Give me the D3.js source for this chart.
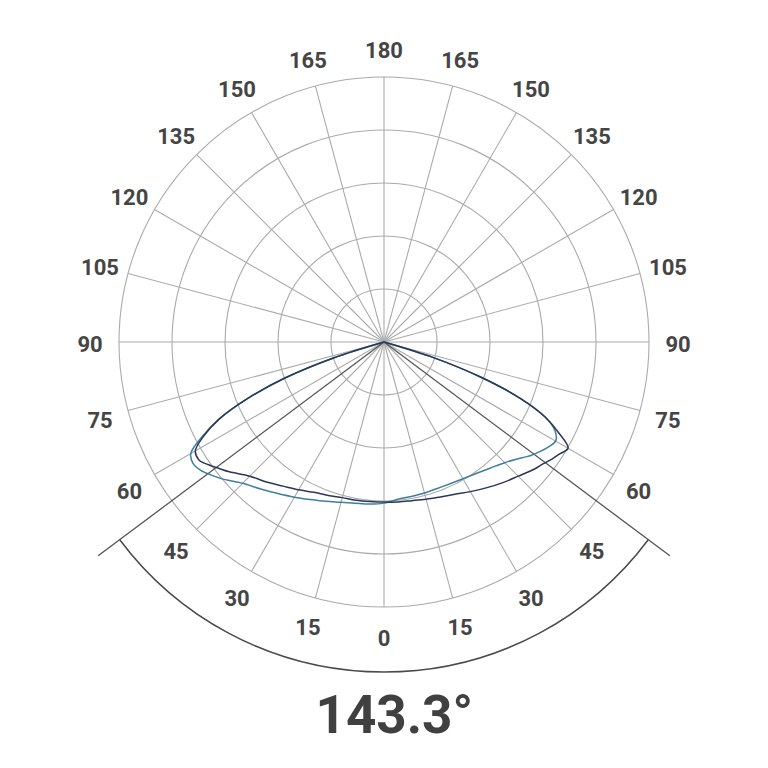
<!DOCTYPE html>
<html>
<head>
<meta charset="utf-8">
<script src="https://cdn.jsdelivr.net/npm/d3@7"></script>
<style>
  body { margin: 0; background: #fff; }
  text { font-family: Roboto, "Open Sans", sans-serif; }
</style>
</head>
<body>
<svg id="chart"></svg>
<script>
// Chart size and polar centre
var width = 768;
var height = 768;
var cx = 384, cy = 342;
var outerR = 265;

// Gamma angles (degrees from nadir) shared by every half-plane
var gammaAngles = [0, 5, 10, 15, 20, 25, 30, 35, 40, 45, 50, 52.5, 55, 57.5, 60, 62.5, 65, 67.5, 70, 72.5, 75, 80, 85, 90];

// Intensity values, plane C0-C180 (dark) : left half and right half
var darkLeft  = [302, 302, 303, 304, 308, 313, 322, 332, 345, 358, 381, 392, 404, 414, 411, 383, 342, 279, 200, 100, 0, 0, 0, 0];
var darkRight = [302, 303, 304, 307, 311, 317, 326, 336, 347, 358, 372, 378, 386, 393, 401, 372, 336, 279, 196, 98, 0, 0, 0, 0];

// Intensity values, plane C90-C270 (teal) : left half and right half
var tealLeft  = [304, 307, 309, 313, 320, 328, 338, 349, 362, 377, 401, 412, 422, 427, 421, 387, 343, 279, 200, 100, 0, 0, 0, 0];
var tealRight = [304, 298, 296, 295, 294, 295, 298, 303, 311, 322, 340, 351, 360, 368, 374, 364, 336, 279, 196, 98, 0, 0, 0, 0];

// Grid rings and angle tick labels
var ringValues = [100, 200, 300, 400, 500];
var tickAngles = [0, 15, 30, 45, 60, 75, 90, 105, 120, 135, 150, 165, 180];

// Beam angle
var beamAngle = 143.3;
var beamEdge = 53.2;   // where the edge lines are drawn in the diagram

var svg = d3.select("#chart")
    .attr("width", width)
    .attr("height", height);

var g = svg.append("g").attr("transform", "translate(" + cx + "," + cy + ")");

var r = d3.scaleLinear().domain([0, 500]).range([0, outerR]);

function rad(d) { return d * Math.PI / 180; }

// Rings
g.selectAll("circle.ring")
    .data(ringValues)
    .enter().append("circle")
    .attr("class", "ring")
    .attr("r", function (d) { return r(d); })
    .attr("fill", "none")
    .attr("stroke", "#ababab")
    .attr("stroke-width", 1.1);

// Spokes every 15 degrees
var spokes = d3.range(0, 360, 15);
g.selectAll("line.spoke")
    .data(spokes)
    .enter().append("line")
    .attr("class", "spoke")
    .attr("x1", 0).attr("y1", 0)
    .attr("x2", function (d) { return r(500) * Math.sin(rad(d)); })
    .attr("y2", function (d) { return r(500) * Math.cos(rad(d)); })
    .attr("stroke", "#ababab")
    .attr("stroke-width", 1.1);

// Tick labels on both sides
var labelR = 294;
var labelData = [];
tickAngles.forEach(function (a) {
    labelData.push({ a: a, side: -1 });
    if (a !== 0 && a !== 180) labelData.push({ a: a, side: 1 });
});
g.selectAll("text.tick")
    .data(labelData)
    .enter().append("text")
    .attr("class", "tick")
    .attr("x", function (d) { return d.side * labelR * Math.sin(rad(d.a)); })
    .attr("y", function (d) { return labelR * Math.cos(rad(d.a)) + 2; })
    .attr("text-anchor", "middle")
    .attr("dominant-baseline", "central")
    .attr("font-size", 22)
    .attr("font-weight", "bold")
    .attr("fill", "#454545")
    .text(function (d) { return d.a; });

// Beam angle edges and arc
var edgeR = 357, arcR = 330;
g.selectAll("line.edge")
    .data([-beamEdge, beamEdge])
    .enter().append("line")
    .attr("class", "edge")
    .attr("x1", 0).attr("y1", 0)
    .attr("x2", function (d) { return edgeR * Math.sin(rad(d)); })
    .attr("y2", function (d) { return edgeR * Math.cos(rad(d)); })
    .attr("stroke", "#555")
    .attr("stroke-width", 1.3);

var arc = d3.arc()
    .innerRadius(arcR)
    .outerRadius(arcR)
    .startAngle(Math.PI - rad(beamEdge))
    .endAngle(Math.PI + rad(beamEdge));
g.append("path")
    .attr("d", arc())
    .attr("fill", "none")
    .attr("stroke", "#4a4a4a")
    .attr("stroke-width", 1.5);

// Build a curve from left and right halves
function halfPlanePoints(left, right) {
    var pts = [];
    for (var i = gammaAngles.length - 1; i >= 0; i--) {
        pts.push([Math.PI + rad(gammaAngles[i]), r(left[i])]);
    }
    for (var j = 1; j < gammaAngles.length; j++) {
        pts.push([Math.PI - rad(gammaAngles[j]), r(right[j])]);
    }
    return pts;
}

var line = d3.lineRadial()
    .angle(function (d) { return d[0]; })
    .radius(function (d) { return d[1]; })
    .curve(d3.curveCatmullRom.alpha(0.5));

g.append("path")
    .attr("d", line(halfPlanePoints(tealLeft, tealRight)))
    .attr("fill", "none")
    .attr("stroke", "#3f7f9c")
    .attr("stroke-width", 1.5);

g.append("path")
    .attr("d", line(halfPlanePoints(darkLeft, darkRight)))
    .attr("fill", "none")
    .attr("stroke", "#2b3855")
    .attr("stroke-width", 1.5);

// Beam angle value
var beamText = svg.append("text")
    .attr("y", 733)
    .attr("font-size", 53)
    .attr("font-weight", "bold")
    .attr("fill", "#404040");
var numSpan = beamText.append("tspan").text(beamAngle.toFixed(1));
beamText.append("tspan").text("°");
var numW = numSpan.node().getComputedTextLength();
beamText.attr("x", cx - numW / 2);
</script>
</body>
</html>
